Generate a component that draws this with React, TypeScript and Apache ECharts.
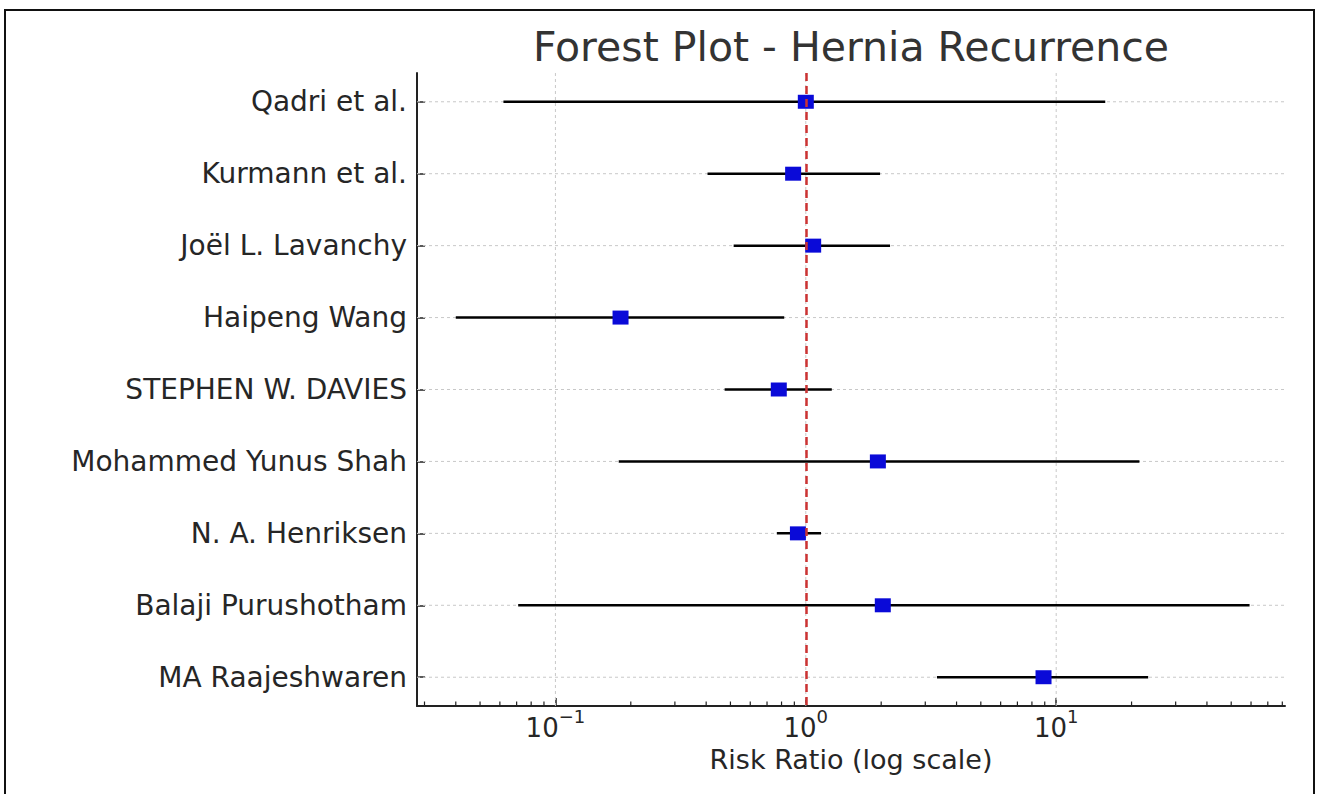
import React, { useEffect, useRef } from "react";
import * as echarts from "echarts";

const studies = [
  "Qadri et al.",
  "Kurmann et al.",
  "Joël L. Lavanchy",
  "Haipeng Wang",
  "STEPHEN W. DAVIES",
  "Mohammed Yunus Shah",
  "N. A. Henriksen",
  "Balaji Purushotham",
  "MA Raajeshwaren",
];
const riskRatio = [1.0, 0.89, 1.07, 0.182, 0.78, 1.94, 0.93, 2.03, 8.9];
const ciLower = [0.062, 0.405, 0.515, 0.04, 0.474, 0.179, 0.766, 0.071, 3.34];
const ciUpper = [15.7, 1.98, 2.17, 0.82, 1.27, 21.5, 1.15, 59.2, 23.3];
const majorTicks = [0.1, 1, 10];
const minorTicks = [
  0.03, 0.04, 0.05, 0.06, 0.07, 0.08, 0.09,
  0.2, 0.3, 0.4, 0.5, 0.6, 0.7, 0.8, 0.9,
  2, 3, 4, 5, 6, 7, 8, 9,
  20, 30, 40, 50, 60, 70, 80,
];
const xMin = 0.028;
const xMax = 82;
const nullValue = 1;
const titleText = "Forest Plot - Hernia Recurrence";
const xAxisTitle = "Risk Ratio (log scale)";

const FONT = "DejaVu Sans";
const TEXT = "#262626";

export default function App() {
  const ref = useRef<HTMLDivElement>(null);

  useEffect(() => {
    const chart = echarts.init(ref.current!, undefined, { renderer: "svg" });
    const rowIdx = studies.map((_, i) => i);

    const option: any = {
      animation: false,
      backgroundColor: "#ffffff",
      title: {
        text: titleText,
        left: 851,
        top: 26,
        padding: 0,
        textAlign: "center",
        textStyle: { fontFamily: FONT, fontSize: 41, fontWeight: "normal", color: "#333333" },
      },
      graphic: [
        {
          type: "rect",
          shape: { x: 5, y: 10, width: 1309, height: 800 },
          style: { fill: "none", stroke: "#111111", lineWidth: 2 },
          silent: true,
        },
      ],
      grid: { left: 417, right: 35, top: 73, bottom: 88 },
      xAxis: {
        type: "log",
        logBase: 10,
        min: xMin,
        max: xMax,
        name: xAxisTitle,
        nameLocation: "middle",
        nameGap: 38,
        nameTextStyle: { fontFamily: FONT, fontSize: 27, color: TEXT },
        axisLine: { show: true, onZero: false, lineStyle: { color: "#222222", width: 2 } },
        axisTick: { show: true, inside: true, length: 8, customValues: majorTicks, lineStyle: { color: "#222222", width: 1.5 } },
        axisLabel: {
          customValues: majorTicks,
          margin: 1,
          formatter: (v: number) => {
            const e = Math.round(Math.log10(v));
            return `{b|10}{s|${e < 0 ? "\u2212" : ""}${Math.abs(e)}}`;
          },
          rich: {
            b: { fontFamily: FONT, fontSize: 26, color: TEXT, lineHeight: 34, verticalAlign: "bottom" },
            s: { fontFamily: FONT, fontSize: 18, color: TEXT, lineHeight: 34, verticalAlign: "top" },
          },
        },
        splitLine: { show: false },
      },
      yAxis: {
        type: "value",
        min: -0.4,
        max: 8.4,
        inverse: true,
        axisLine: { show: true, onZero: false, lineStyle: { color: "#222222", width: 2 } },
        axisTick: { show: true, inside: true, length: 8, customValues: rowIdx, lineStyle: { color: "#222222", width: 1.5 } },
        axisLabel: {
          customValues: rowIdx,
          margin: 10,
          fontFamily: FONT,
          fontSize: 28,
          color: TEXT,
          formatter: (v: number) => studies[Math.round(v)] ?? "",
        },
        splitLine: { show: false },
      },
      series: [
        {
          type: "custom",
          name: "vgrid",
          silent: true,
          z: 1,
          data: majorTicks.map((v) => [v, 0]),
          renderItem: (params: any, api: any) => {
            const cs = params.coordSys;
            const p = api.coord([api.value(0), 0]);
            return {
              type: "line",
              shape: { x1: p[0], y1: cs.y, x2: p[0], y2: cs.y + cs.height },
              style: { stroke: "#c8c8c8", lineWidth: 1, lineDash: [3, 3] },
            };
          },
        },
        {
          type: "custom",
          name: "hgrid",
          silent: true,
          z: 1,
          data: rowIdx.map((i) => [1, i]),
          renderItem: (params: any, api: any) => {
            const cs = params.coordSys;
            const p = api.coord([1, api.value(1)]);
            return {
              type: "line",
              shape: { x1: cs.x, y1: p[1], x2: cs.x + cs.width, y2: p[1] },
              style: { stroke: "#c8c8c8", lineWidth: 1, lineDash: [3, 3] },
            };
          },
        },
        {
          type: "custom",
          name: "minorTicks",
          silent: true,
          z: 3,
          data: minorTicks.map((v) => [v, 0]),
          renderItem: (params: any, api: any) => {
            const cs = params.coordSys;
            const p = api.coord([api.value(0), 0]);
            const yb = cs.y + cs.height;
            return {
              type: "line",
              shape: { x1: p[0], y1: yb, x2: p[0], y2: yb - 4.5 },
              style: { stroke: "#222222", lineWidth: 1.2 },
            };
          },
        },
        {
          type: "custom",
          name: "CI",
          silent: true,
          z: 4,
          data: rowIdx.map((i) => [ciLower[i], ciUpper[i], i]),
          renderItem: (params: any, api: any) => {
            const a = api.coord([api.value(0), api.value(2)]);
            const b = api.coord([api.value(1), api.value(2)]);
            return {
              type: "line",
              shape: { x1: a[0], y1: a[1], x2: b[0], y2: b[1] },
              style: { stroke: "#000000", lineWidth: 2.5 },
            };
          },
        },
        {
          type: "scatter",
          name: "RR",
          z: 5,
          symbol: "rect",
          symbolSize: [16, 14],
          itemStyle: { color: "#0a0ad8", opacity: 1 },
          data: rowIdx.map((i) => [riskRatio[i], i]),
          markLine: {
            silent: true,
            symbol: "none",
            label: { show: false },
            lineStyle: { color: "#cc3333", type: [8, 5], width: 2.5 },
            data: [{ xAxis: nullValue }],
            z: 6,
          },
        },
      ],
    };
    chart.setOption(option);
    return () => chart.dispose();
  }, []);

  return (
    <div style={{ position: "fixed", left: 0, top: 0, width: 1320, height: 794, background: "#fff" }}>
      <div ref={ref} style={{ width: 1320, height: 794 }} />
    </div>
  );
}
